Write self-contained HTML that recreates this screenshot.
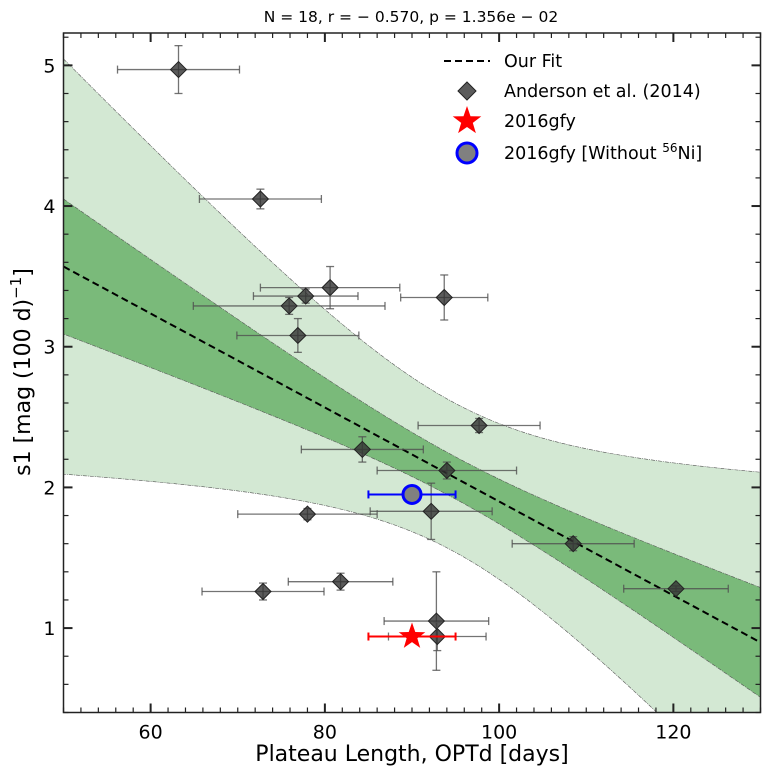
<!DOCTYPE html>
<html><head><meta charset="utf-8"><style>
body{margin:0;background:#fff}
svg{display:block;font-family:"DejaVu Sans","Liberation Sans",sans-serif}
</style></head><body>
<svg id="chart" width="771" height="779"></svg>
<script>
const xVals=[63.2,72.6,80.6,77.8,75.9,93.7,76.9,97.7,84.3,94.0,92.2,78.0,108.5,120.3,81.8,72.9,92.8,92.9];
const yVals=[4.97,4.05,3.42,3.36,3.29,3.35,3.08,2.44,2.27,2.12,1.83,1.81,1.60,1.28,1.33,1.26,1.05,0.94];
const xErr=[7,7,8,6,11,5,7,7,7,8,7,8,7,6,6,7,6,5.6];
const yErr=[0.17,0.07,0.15,0.05,0.06,0.16,0.12,0.05,0.09,0.06,0.2,0.04,0.05,0.02,0.06,0.06,0.35,0.1];
const starPt=[90,0.94,5];
const circlePt=[90,1.95,5];
const fitParams=[-0.0334,3.57,50]; // slope, value at x0, x0
const innerBand=[0.0225,1.04e-4,94.7]; // c, d, xm
const outerBand=[0.28,9.5e-4,94.7];
const xTicks=[60,80,100,120];
const yTicks=[1,2,3,4,5];

const NS="http://www.w3.org/2000/svg";
const svg=document.getElementById('chart');
const L=63.5,R=760.5,T=33,B=712.5;
const xMin=50,xMax=130,yMin=0.40,yMax=5.23;
const X=v=>L+(v-xMin)/(xMax-xMin)*(R-L);
const Y=v=>B-(v-yMin)/(yMax-yMin)*(B-T);
function el(tag,attrs,parent){const e=document.createElementNS(NS,tag);for(const k in attrs)e.setAttribute(k,attrs[k]);(parent||svg).appendChild(e);return e;}
const defs=el('defs',{});
const cp=el('clipPath',{id:'clip'},defs);el('rect',{x:L,y:T,width:R-L,height:B-T},cp);
const plot=el('g',{'clip-path':'url(#clip)'});


const fit=x=>fitParams[1]+fitParams[0]*(x-fitParams[2]);
function band(p,sign){const pts=[];for(let x=xMin;x<=xMax+0.01;x+=1){const hw=Math.sqrt(p[0]+p[1]*(x-p[2])**2);pts.push([X(x),Y(fit(x)+sign*hw)]);}return pts;}
function bandPath(p){const up=band(p,1),lo=band(p,-1).reverse();return 'M'+up.concat(lo).map(q=>q.join(',')).join('L')+'Z';}
const ob=el('path',{d:bandPath(outerBand),fill:'#d3e8d3',stroke:'#555','stroke-width':0.6,'stroke-dasharray':'4,1,1,1'},plot);


const ib=el('path',{d:bandPath(innerBand),fill:'#7aba7a',stroke:'#555','stroke-width':0.6,'stroke-dasharray':'4,1,1,1'},plot);


const fl=el('line',{x1:X(xMin),y1:Y(fit(xMin)),x2:X(xMax),y2:Y(fit(xMax)),stroke:'#000','stroke-width':2,'stroke-dasharray':'7,4'},plot);


function errbar(g,x,y,xe,ye,col,w){
  el('line',{x1:X(x-xe),y1:Y(y),x2:X(x+xe),y2:Y(y),stroke:col,'stroke-width':w},g);
  el('line',{x1:X(x-xe),y1:Y(y)-4,x2:X(x-xe),y2:Y(y)+4,stroke:col,'stroke-width':w},g);
  el('line',{x1:X(x+xe),y1:Y(y)-4,x2:X(x+xe),y2:Y(y)+4,stroke:col,'stroke-width':w},g);
  if(ye){el('line',{x1:X(x),y1:Y(y-ye),x2:X(x),y2:Y(y+ye),stroke:col,'stroke-width':w},g);
  el('line',{x1:X(x)-4,y1:Y(y-ye),x2:X(x)+4,y2:Y(y-ye),stroke:col,'stroke-width':w},g);
  el('line',{x1:X(x)-4,y1:Y(y+ye),x2:X(x)+4,y2:Y(y+ye),stroke:col,'stroke-width':w},g);}
}
function diamond(g,cx,cy,r){return el('path',{d:`M${cx},${cy-r}L${cx+r},${cy}L${cx},${cy+r}L${cx-r},${cy}Z`,fill:'rgba(50,50,50,0.8)',stroke:'#222','stroke-width':1},g);}
for(let i=0;i<xVals.length;i++){
  const g=el('g',{},plot);
  
  
  errbar(g,xVals[i],yVals[i],xErr[i],yErr[i],'rgba(80,80,80,0.8)',1.3);
  diamond(g,X(xVals[i]),Y(yVals[i]),8);
}
function starPath(cx,cy,r){let d='';for(let k=0;k<10;k++){const a=-Math.PI/2+k*Math.PI/5,rr=k%2?r*0.4:r;d+=(k?'L':'M')+(cx+rr*Math.cos(a))+','+(cy+rr*Math.sin(a));}return d+'Z';}
const sg=el('g',{},plot);


errbar(sg,starPt[0],starPt[1],starPt[2],0,'#f00',2);
el('path',{d:starPath(X(starPt[0]),Y(starPt[1]),14),fill:'#f00'},sg);
const cg=el('g',{},plot);


errbar(cg,circlePt[0],circlePt[1],circlePt[2],0,'#00f',2);
el('circle',{cx:X(circlePt[0]),cy:Y(circlePt[1]),r:9,fill:'#808080',stroke:'#00f','stroke-width':3},cg);
// frame & ticks
const ax=el('g',{});


el('rect',{x:L,y:T,width:R-L,height:B-T,fill:'none',stroke:'#222','stroke-width':1.5},ax);
for(let v=50;v<=130;v+=2){const big=v%20==0,len=big?9:5;
  el('line',{x1:X(v),y1:B,x2:X(v),y2:B-len,stroke:'#222','stroke-width':big?2:1.2},ax);
  el('line',{x1:X(v),y1:T,x2:X(v),y2:T+len,stroke:'#222','stroke-width':big?2:1.2},ax);}
for(let k=2;k*0.2<=yMax;k++){const v=k*0.2;const big=k%5==0,len=big?9:5;
  el('line',{x1:L,y1:Y(v),x2:L+len,y2:Y(v),stroke:'#222','stroke-width':big?2:1.2},ax);
  el('line',{x1:R,y1:Y(v),x2:R-len,y2:Y(v),stroke:'#222','stroke-width':big?2:1.2},ax);}
xTicks.forEach(v=>{const t=el('text',{x:X(v),y:B+26,'text-anchor':'middle','font-size':19},ax);t.textContent=v;

});
yTicks.forEach(v=>{const t=el('text',{x:L-8,y:Y(v)+7,'text-anchor':'end','font-size':19},ax);t.textContent=v;

});
</script>
<svg style="position:absolute;left:0;top:0" width="771" height="779">
<text x="411" y="22" text-anchor="middle" font-size="15.5" font-family="DejaVu Sans, sans-serif">N = 18, r = − 0.570, p = 1.356e − 02</text>
<text x="412" y="761" text-anchor="middle" font-size="22" font-family="DejaVu Sans, sans-serif">Plateau Length, OPTd [days]</text>
<text transform="translate(30,372) rotate(-90)" text-anchor="middle" font-size="22" font-family="DejaVu Sans, sans-serif">s1 [mag (100 d)<tspan dy="-9" font-size="15">−1</tspan><tspan dy="9">]</tspan></text>
<g font-size="17.5" font-family="DejaVu Sans, sans-serif">
<g><line x1="444" y1="61" x2="490" y2="61" stroke="#000" stroke-width="2" stroke-dasharray="7,4"/><text x="504" y="67">Our Fit</text></g>
<g><path d="M467,82L476,91L467,100L458,91Z" fill="rgba(50,50,50,0.8)" stroke="#222"/><text x="504" y="97">Anderson et al. (2014)</text></g>
<g><path d="M467,106L470.5,116.2L481.3,116.4L472.8,122.9L475.9,133.1L467,127L458.1,133.1L461.2,122.9L452.7,116.4L463.5,116.2Z" fill="#f00"/><text x="504" y="127">2016gfy</text></g>
<g><circle cx="467" cy="153" r="10" fill="#808080" stroke="#00f" stroke-width="3"/><text x="504" y="159">2016gfy [Without <tspan dy="-7" font-size="12">56</tspan><tspan dy="7">Ni]</tspan></text></g>
</g>
</svg>
</body></html>
